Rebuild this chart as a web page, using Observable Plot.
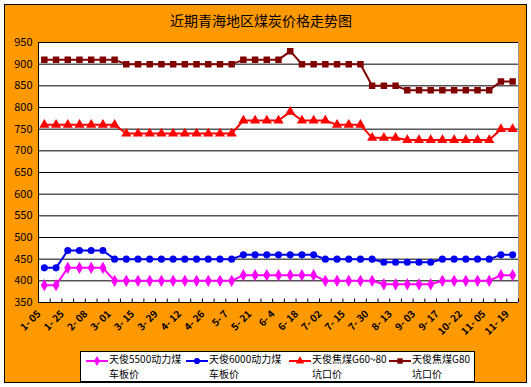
<!DOCTYPE html>
<html><head><meta charset="utf-8">
<script src="https://cdn.jsdelivr.net/npm/d3@7"></script>
<script src="https://cdn.jsdelivr.net/npm/@observablehq/plot@0.6"></script>
<style>
body{margin:0;background:#fff;font-family:"Noto Sans CJK SC","DejaVu Sans",sans-serif;}
#wrap{position:relative;width:531px;height:387px;overflow:hidden;}
#frame{position:absolute;left:4px;top:4px;width:523px;height:379px;background:#FF9900;border:1px solid #000;box-sizing:border-box;}
#title{position:absolute;left:4px;width:514px;top:11px;text-align:center;font-size:14px;line-height:18px;color:#000;}
#chart{position:absolute;left:0;top:0;}
#legend{position:absolute;left:80px;top:351px;width:395px;height:31px;background:#fff;border:1px solid #000;box-sizing:border-box;}
.item{position:absolute;top:0;height:29px;}
.item svg{position:absolute;left:0;top:3px;}
.item .t1,.item .t2{position:absolute;left:24px;font-size:10px;line-height:14px;white-space:nowrap;color:#000;}
.item .t1{top:0px;}
.item .t2{top:14.5px;}
</style>
</head><body>
<div id="wrap">
  <div id="frame"></div>
  <div id="title">近期青海地区煤炭价格走势图</div>
  <div id="chart"></div>
  <div id="legend"></div>
</div>
<script>
const tickLabels = ["1- 05","1- 25","2- 08","3- 01","3- 15","3- 29","4- 12","4- 26","5- 7","5- 21","6- 4","6- 18","7- 02","7- 15","7- 30","8- 13","9- 03","9- 17","10- 22","11- 05","11- 19"];
const yTicks = [350,400,450,500,550,600,650,700,750,800,850,900,950];
const seriesNames = ["天俊5500动力煤车板价","天俊6000动力煤车板价","天俊焦煤G60~80坑口价","天俊焦煤G80坑口价"];
const legendLine1 = ["天俊5500动力煤","天俊6000动力煤","天俊焦煤G60~80","天俊焦煤G80"];
const legendLine2 = ["车板价","车板价","坑口价","坑口价"];
const seriesColors = ["#FF00FF","#0000EE","#FF0000","#800000"];
const seriesSymbols = ["diamond","circle","triangle","square"];

const s5500 = [390,390,430,430,430,430,400,400,400,400,400,400,400,400,400,400,400,413,413,413,413,413,413,413,400,400,400,400,400,392,392,392,392,392,400,400,400,400,400,413,413];
const s6000 = [430,430,470,470,470,470,450,450,450,450,450,450,450,450,450,450,450,460,460,460,460,460,460,460,450,450,450,450,450,443,443,443,443,443,450,450,450,450,450,460,460];
const sG6080 = [760,760,760,760,760,760,760,740,740,740,740,740,740,740,740,740,740,770,770,770,770,790,770,770,770,760,760,760,730,730,730,725,725,725,725,725,725,725,725,750,750];
const sG80 = [910,910,910,910,910,910,910,900,900,900,900,900,900,900,900,900,900,910,910,910,910,930,900,900,900,900,900,900,850,850,850,840,840,840,840,840,840,840,840,860,860];

const allSeries = [s5500, s6000, sG6080, sG80];
const data = allSeries.flatMap((vals, k) => vals.map((v, i) => ({i, v, s: seriesNames[k]})));
const n = s5500.length;
const labelData = tickLabels.map((t, k) => ({i: k * 2, t}));
const bounds = d3.range(n + 1).map(k => k - 0.5);

const chart = Plot.plot({
  width: 531, height: 387,
  marginLeft: 38, marginRight: 13, marginTop: 42, marginBottom: 85,
  style: {background: "transparent", fontFamily: "'Noto Sans CJK SC','DejaVu Sans',sans-serif", fontSize: "11px", color: "#000"},
  x: {domain: [-0.5, n - 0.5], axis: null},
  y: {domain: [350, 950], axis: null},
  color: {domain: seriesNames, range: seriesColors},
  symbol: {domain: seriesNames, range: seriesSymbols},
  marks: [
    Plot.frame({fill: "#fff", stroke: "#999"}),
    Plot.ruleY(yTicks.filter(d => d > 350), {stroke: "#000", strokeWidth: 1}),
    Plot.axisY({ticks: yTicks, tickSize: 0, tickPadding: 6, label: null, fontSize: 11, fill: "#000"}),
    Plot.ruleX([-0.5], {stroke: "#000"}),
    Plot.ruleY([350], {stroke: "#000"}),
    Plot.ruleX(bounds, {y1: 350, y2: 358, stroke: "#000"}),
    Plot.line(data, {x: "i", y: "v", z: "s", stroke: "s", strokeWidth: 2}),
    Plot.dot(data, {x: "i", y: "v", fill: "s", stroke: "s", symbol: "s", r: 2.8}),
    Plot.text(labelData, {x: "i", text: "t", frameAnchor: "bottom", rotate: -45, textAnchor: "end", dx: -3, dy: 12, fontWeight: "bold", fontSize: 10, fill: "#000"})
  ]
});
document.getElementById("chart").appendChild(chart);

const legend = document.getElementById("legend");
const symMap = {diamond: d3.symbolDiamond, circle: d3.symbolCircle, triangle: d3.symbolTriangle, square: d3.symbolSquare};
const offsets = [4, 104, 207, 307];
seriesNames.forEach((name, k) => {
  const item = document.createElement("div");
  item.className = "item";
  item.style.left = offsets[k] + "px";
  const sym = d3.symbol(symMap[seriesSymbols[k]], 30)();
  item.innerHTML = `<svg width="24" height="12"><line x1="1" x2="23" y1="6" y2="6" stroke="${seriesColors[k]}" stroke-width="2"/><path d="${sym}" transform="translate(12,6)" fill="${seriesColors[k]}"/></svg><div class="t1">${legendLine1[k]}</div><div class="t2">${legendLine2[k]}</div>`;
  legend.appendChild(item);
});
</script>
</body></html>
